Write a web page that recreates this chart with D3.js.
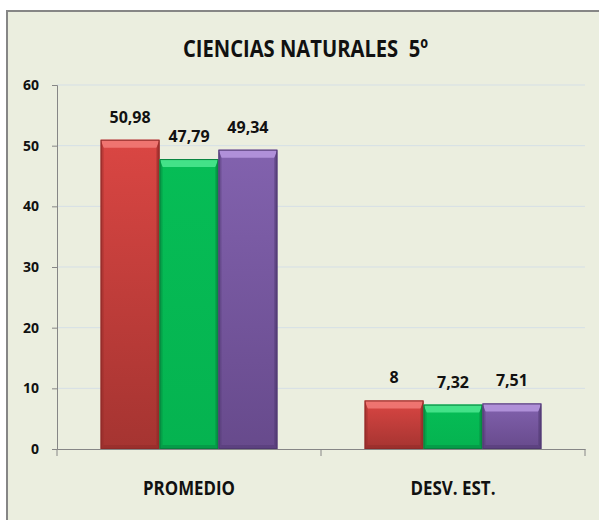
<!DOCTYPE html>
<html>
<head>
<meta charset="utf-8">
<script src="https://cdn.jsdelivr.net/npm/d3@7"></script>
<style>
  body { margin: 0; background: #fff; }
  svg text { font-family: "Open Sans", sans-serif; font-weight: bold; fill: #111; }
</style>
</head>
<body>
<svg id="chart" width="599" height="520"></svg>
<script>
// chart data
const categories = ['PROMEDIO', 'DESV. EST.'];
const seriesNames = ['s1', 's2', 's3'];
const seriesValues = [
  [50.98, 8],     // red
  [47.79, 7.32],  // green
  [49.34, 7.51]   // purple
];
const valueLabels = [
  ['50,98', '8'],
  ['47,79', '7,32'],
  ['49,34', '7,51']
];
const yTicks = [0, 10, 20, 30, 40, 50, 60];
const title = 'CIENCIAS NATURALES  5º';

const colors = [
  { top: '#da4643', bottom: '#a53431', light: '#f4807c', dark: '#8e2a28' },
  { top: '#06bd56', bottom: '#05b350', light: '#52eb95', dark: '#07803d' },
  { top: '#8262ae', bottom: '#674a8c', light: '#bb9ce4', dark: '#4f3870' }
];

const svg = d3.select('#chart');
const defs = svg.append('defs');
colors.forEach((c, i) => {
  const lg = defs.append('linearGradient')
      .attr('id', 'grad' + i)
      .attr('x1', 0).attr('y1', 0).attr('x2', 0).attr('y2', 1);
  lg.append('stop').attr('offset', '0%').attr('stop-color', c.top);
  lg.append('stop').attr('offset', '100%').attr('stop-color', c.bottom);
});

// background panel with border (right / bottom edges cut off)
svg.append('rect')
    .attr('x', 7).attr('y', 11)
    .attr('width', 620).attr('height', 540)
    .attr('fill', '#ebeedf')
    .attr('stroke', '#868686')
    .attr('stroke-width', 2);

svg.append('text')
    .attr('x', 305.5).attr('y', 57)
    .attr('text-anchor', 'middle')
    .attr('font-size', 24)
    .attr('xml:space', 'preserve')
    .style('white-space', 'pre')
    .attr('textLength', 245)
    .attr('lengthAdjust', 'spacingAndGlyphs')
    .text(title);

const plot = { left: 57, right: 585, top: 85, bottom: 449 };

const x = d3.scaleBand()
    .domain(categories)
    .range([plot.left, plot.right]);

const xInner = d3.scaleBand()
    .domain(seriesNames)
    .range([0, x.bandwidth()])
    .paddingOuter(0.74);

const y = d3.scaleLinear()
    .domain([0, 60])
    .range([plot.bottom, plot.top]);

// gridlines
svg.append('g')
  .selectAll('line')
  .data(yTicks.filter(d => d > 0))
  .join('line')
    .attr('x1', plot.left).attr('x2', plot.right)
    .attr('y1', d => y(d)).attr('y2', d => y(d))
    .attr('stroke', '#d5dfe6')
    .attr('stroke-width', 1);

// y axis
const yAxis = svg.append('g')
    .attr('transform', `translate(${plot.left},0)`)
    .call(d3.axisLeft(y).tickValues(yTicks).tickSize(5).tickPadding(13));
yAxis.select('.domain').attr('stroke', '#868686');
yAxis.selectAll('.tick line').attr('stroke', '#868686');
yAxis.selectAll('.tick text')
    .attr('font-size', 14)
    .attr('font-family', '"Open Sans", sans-serif')
    .attr('font-weight', 'bold')
    .attr('fill', '#111');

// bars
const bevelTop = 8, bevelSide = 3, bevelBottom = 4;
const groups = svg.append('g')
  .selectAll('g')
  .data(categories)
  .join('g')
    .attr('transform', d => `translate(${x(d)},0)`);

seriesNames.forEach((s, si) => {
  const c = colors[si];
  const bars = groups.append('g');
  bars.each(function(cat, ci) {
    const v = seriesValues[si][ci];
    const x0 = xInner(s), x1 = xInner(s) + xInner.bandwidth();
    const y0 = y(v), y1 = y(0);
    const g = d3.select(this);
    g.append('rect')
        .attr('x', x0).attr('y', y0)
        .attr('width', x1 - x0).attr('height', y1 - y0)
        .attr('fill', `url(#grad${si})`);
    // top bevel
    g.append('path')
        .attr('d', `M${x0},${y0}L${x1},${y0}L${x1 - bevelSide},${y0 + bevelTop}L${x0 + bevelSide},${y0 + bevelTop}Z`)
        .attr('fill', c.light).attr('opacity', 0.8);
    // side and bottom bevels
    g.append('path')
        .attr('d', `M${x0},${y0}L${x0 + bevelSide},${y0 + bevelTop}L${x0 + bevelSide},${y1 - bevelBottom}L${x0},${y1}Z`)
        .attr('fill', c.dark).attr('opacity', 0.4);
    g.append('path')
        .attr('d', `M${x1},${y0}L${x1 - bevelSide},${y0 + bevelTop}L${x1 - bevelSide},${y1 - bevelBottom}L${x1},${y1}Z`)
        .attr('fill', c.dark).attr('opacity', 0.6);
    g.append('path')
        .attr('d', `M${x0},${y1}L${x0 + bevelSide},${y1 - bevelBottom}L${x1 - bevelSide},${y1 - bevelBottom}L${x1},${y1}Z`)
        .attr('fill', c.dark).attr('opacity', 0.45);
    g.append('rect')
        .attr('x', x0 + 0.5).attr('y', y0 + 0.5)
        .attr('width', x1 - x0 - 1).attr('height', y1 - y0 - 1)
        .attr('fill', 'none')
        .attr('stroke', c.dark)
        .attr('stroke-width', 1);
    g.append('text')
        .attr('x', (x0 + x1) / 2)
        .attr('y', y0 - 17)
        .attr('text-anchor', 'middle')
        .attr('font-size', 16)
        .text(valueLabels[si][ci]);
  });
});

// x axis
const xAxis = svg.append('g')
    .attr('transform', `translate(0,${plot.bottom})`)
    .call(d3.axisBottom(x).tickSize(0).tickFormat(''));
xAxis.select('.domain').attr('stroke', '#868686');
xAxis.selectAll('.tick').remove();
svg.append('g')
  .selectAll('line')
  .data([plot.left, x(categories[1]), plot.right])
  .join('line')
    .attr('x1', d => d).attr('x2', d => d)
    .attr('y1', plot.bottom).attr('y2', plot.bottom + 7)
    .attr('stroke', '#868686');

const catLabelWidths = [92, 85];
svg.append('g')
  .selectAll('text')
  .data(categories)
  .join('text')
    .attr('x', d => x(d) + x.bandwidth() / 2)
    .attr('y', 495)
    .attr('text-anchor', 'middle')
    .attr('font-size', 20)
    .attr('textLength', (d, i) => catLabelWidths[i])
    .attr('lengthAdjust', 'spacingAndGlyphs')
    .text(d => d);
</script>
</body>
</html>
